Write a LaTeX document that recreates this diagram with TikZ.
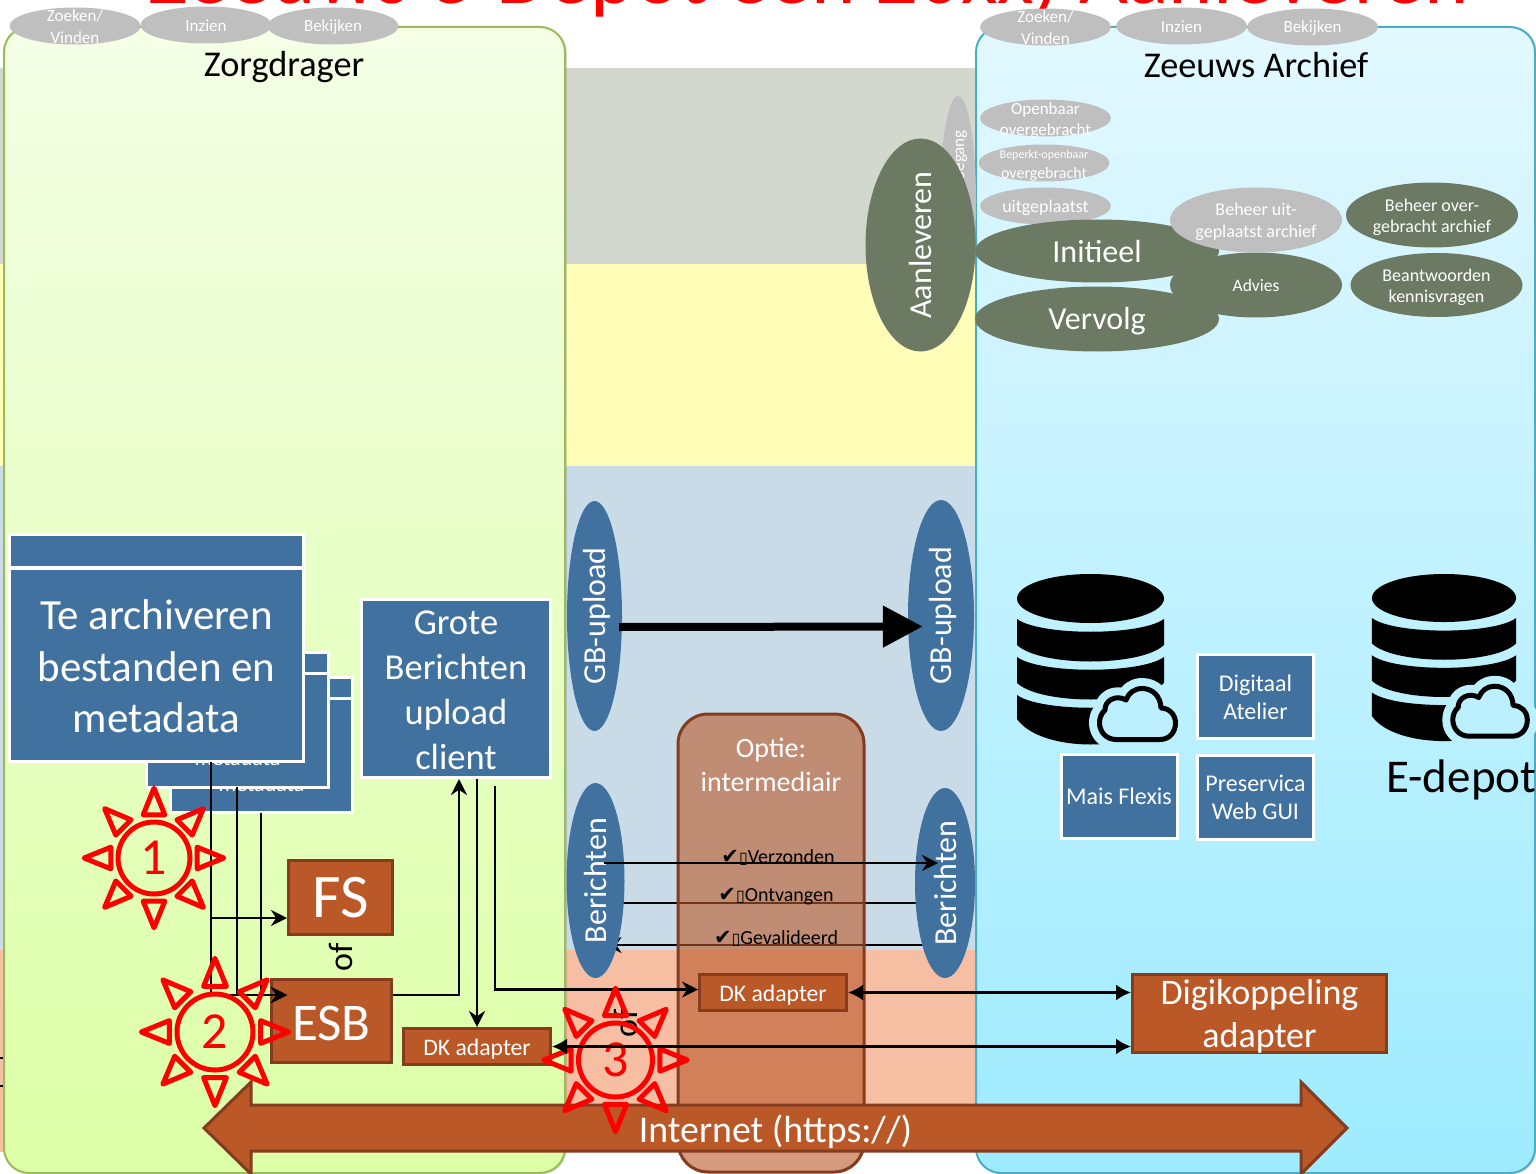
\documentclass[tikz,border=0pt]{standalone}
\usepackage{fontspec}
\setmainfont{Carlito}
\newfontfamily\symbfont{DejaVu Sans}
\usetikzlibrary{shapes.geometric,arrows.meta,shadows,calc}

\definecolor{bandgrijs}{HTML}{D3D8CE}
\definecolor{bandgeel}{HTML}{FFFDB8}
\definecolor{bandblauw}{HTML}{CADBE8}
\definecolor{bandzalm}{HTML}{F6BEA3}
\definecolor{vakblauw}{HTML}{41729F}
\definecolor{vakbruin}{HTML}{BB5828}
\definecolor{randbruin}{HTML}{843C1F}
\definecolor{ovaalgroen}{HTML}{6D7A63}
\definecolor{ovaalgrijs}{HTML}{BFBFBF}
\definecolor{wolkblauw}{HTML}{BCF0FF}
\definecolor{randgroen}{HTML}{9BBB59}
\definecolor{randblauw}{HTML}{4BACC6}
\definecolor{zorgboven}{HTML}{F4FFE6}
\definecolor{zorgonder}{HTML}{DCFFA6}
\definecolor{archiefboven}{HTML}{E2F8FF}
\definecolor{archiefonder}{HTML}{9EEBFF}

\newcommand{\fs}[2]{\fontsize{#1}{#2}\selectfont}

\newcommand{\sunmark}[5]{
    \node[zon, minimum size=#4*2pt] (#1) at (#2,#3) {#5};
    \foreach \a in {0,45,...,315}
        \draw[zonstraal, shift={(#2,#3)}, rotate=\a] ({#4*1.94},0) -- ({#4*1.2},{#4*0.3}) -- ({#4*1.2},{-#4*0.3}) -- cycle;
}

\newcommand{\dbcloud}[3]{
    \begin{scope}[shift={(#1,#2)}, scale=#3]
        \fill (0,24.5) ellipse (73.5 and 24.5);
        \foreach \t/\b/\s in {45/71/22,83/109/22,121/145/34}
            \fill (-73.5,\t) .. controls (-50,\t+17) and (50,\t+17) .. (73.5,\t) -- (73.5,\b) .. controls (50,\b+\s) and (-50,\b+\s) .. (-73.5,\b) -- cycle;
        \foreach \w/\k in {21pt/wolkblauw,5pt/black}
            \draw[line width=\w, draw=\k, fill=wolkblauw, line join=round] (25.5,165.5) -- (69.5,165.5) .. controls (79,165.5) and (85,158) .. (85,149) .. controls (85,140) and (78,134) .. (70.5,134) .. controls (70,122) and (62,114.5) .. (51.5,114.5) .. controls (44,114.5) and (38,119) .. (35.5,126) .. controls (25,120) and (14,127) .. (14.5,136) .. controls (10,140) and (9,145) .. (9,149) .. controls (9,158) and (16,165.5) .. (25.5,165.5) -- cycle;
    \end{scope}
}

\begin{document}
\begin{tikzpicture}[x=1pt, y=-1pt,
            every node/.style = {inner sep=0pt, align=center},
            every label/.style = {text=white, align=center},
            paneel/.style = {rectangle, rounded corners=25pt, line width=2pt, minimum width=#1, minimum height=1146pt,
                drop shadow={shadow xshift=2pt, shadow yshift=-1pt, opacity=0.25}},
            kop/.style = {font=\fs{36.3}{40}},
            grijs/.style = {ellipse, fill=ovaalgrijs, text=white, minimum width=131pt, minimum height=37pt},
            groen/.style = {ellipse, fill=ovaalgroen, text=white},
            blauw/.style = {ellipse, fill=vakblauw, text=white, rotate=90},
            vak/.style = {rectangle, fill=vakblauw, draw=white, line width=3pt, text=white},
            bruin/.style = {rectangle, fill=vakbruin, draw=randbruin, line width=3pt, text=white},
            zon/.style = {circle, draw=red, line width=5pt, text=red, font=\fs{52}{52}},
            zonstraal/.style = {draw=red, line width=5pt, line join=round},
            lijn/.style = {draw=black, line width=2.5pt},
            pijl/.style = {lijn, -{Stealth[length=16pt, width=16pt]}},
            dubbel/.style = {lijn, {Latex[length=15pt, width=16pt]}-{Latex[length=15pt, width=16pt]}},
            status/.style = {text=black, font=\fs{20}{20}}
            ]
    \useasboundingbox (0,0) rectangle (1536,1174);
    \fill[white] (0,0) rectangle (1536,1174);
    \fill[bandgrijs] (0,68) rectangle (1536,264);
    \fill[bandgeel] (0,264) rectangle (1536,466);
    \fill[bandblauw] (0,466) rectangle (1536,950);
    \fill[bandzalm] (0,950) rectangle (1536,1152);
    \coordinate (tik1) at (0,1058);
    \coordinate (tik2) at (0,1086);
    \draw[lijn] (tik1) -- ++(4,0);
    \draw[lijn] (tik2) -- ++(4,0);

    \node[paneel=561pt, draw=randgroen, top color=zorgboven, bottom color=zorgonder] (zorgdrager) at (284.5,600) {};
    \node[paneel=559pt, draw=randblauw, top color=archiefboven, bottom color=archiefonder] (archief) at (1255.5,600) {};

    \node[anchor=base, text=red, font=\fs{84.7}{85}] (titel) at (809,4) {Zeeuws e-Depot een 20xx) Aanleveren};
    \node[kop] (zorgkop) at (284,67) {Zorgdrager};
    \node[kop] (archiefkop) at (1256,65) {Zeeuws Archief};

    \node[grijs, label={[font=\fs{17}{22}, yshift=-1pt]center:Zoeken/\\Vinden}] (zoeken1) at (75,26) {};
    \node[grijs, label={[font=\fs{17}{17}, yshift=-1pt]center:Inzien}] (inzien1) at (206,25) {};
    \node[grijs, label={[font=\fs{17}{17}, yshift=-1pt]center:Bekijken}] (bekijken1) at (333,26) {};
    \node[grijs, label={[font=\fs{17}{22}, yshift=-1pt]center:Zoeken/\\Vinden}] (zoeken2) at (1045.5,27) {};
    \node[grijs, label={[font=\fs{17}{17}, yshift=-1pt]center:Inzien}] (inzien2) at (1181.5,26) {};
    \node[grijs, label={[font=\fs{17}{17}, yshift=-1pt]center:Bekijken}] (bekijken2) at (1312.5,27) {};

    \node[grijs, rotate=90, minimum width=210pt, minimum height=36pt] (toegang) at (958,201) {};
    \node[rotate=90, anchor=east, text=white, font=\fs{17}{17}] (toegangtekst) at (960,130) {Toegang};
    \node[grijs, label={[font=\fs{17}{21}, yshift=-3pt]center:Openbaar\\overgebracht}] (openbaar) at (1045.5,118) {};
    \node[grijs, label={[font=\fs{16}{20}, yshift=-3pt]center:{\fs{12}{14}Beperkt-openbaar}\\overgebracht}] (beperkt) at (1044,163) {};
    \node[grijs, label={[font=\fs{18}{18}, yshift=-2pt]center:uitgeplaatst}] (uitgeplaatst) at (1045.5,206) {};

    \node[groen, minimum width=244pt, minimum height=63pt, label={[font=\fs{32}{32}, yshift=-1pt]center:Initieel}] (initieel) at (1097,251) {};
    \node[groen, minimum width=172pt, minimum height=65pt, font=\fs{17.5}{22}] (advies) at (1256,285) {Advies};
    \node[groen, minimum width=244pt, minimum height=65pt, label={[font=\fs{32}{32}, yshift=-2pt]center:Vervolg}] (vervolg) at (1097,319) {};
    \node[grijs, minimum width=172pt, minimum height=65pt, label={[font=\fs{18}{22}, yshift=-2pt]center:Beheer uit-\\geplaatst archief}] (beheeruit) at (1256,220) {};
    \node[groen, minimum width=172pt, minimum height=65pt, label={[font=\fs{18}{21}, yshift=-2pt]center:Beheer over-\\gebracht archief}] (beheerover) at (1432,215) {};
    \node[groen, minimum width=172pt, minimum height=64pt, label={[font=\fs{18}{21}, yshift=-2pt]center:Beantwoorden\\kennisvragen}] (kennis) at (1436.5,285) {};
    \node[groen, rotate=90, minimum width=213pt, minimum height=110pt, font=\fs{32}{32}] (aanleveren) at (920.5,245) {Aanleveren};

    \node[vak, minimum width=182pt, minimum height=114pt, font=\fs{22}{28}] (bron3) at (261.5,755.5) {Te archiveren\\bestanden en\\metadata};
    \node[vak, minimum width=182pt, minimum height=21pt] (bronkop3) at (261.5,687.5) {};
    \node[vak, minimum width=182pt, minimum height=114pt, font=\fs{22}{28}] (bron2) at (237.5,730) {Te archiveren\\bestanden en\\metadata};
    \node[vak, minimum width=182pt, minimum height=21pt] (bronkop2) at (237.5,662.5) {};
    \node[vak, minimum width=294pt, minimum height=193pt, label={[font=\fs{43}{51.5}, yshift=-2pt]center:Te archiveren\\bestanden en\\metadata}] (bron1) at (156.5,664.5) {};
    \node[vak, minimum width=294pt, minimum height=33pt] (bronkop1) at (156.5,551) {};
    \node[vak, minimum width=189pt, minimum height=178pt, label={[font=\fs{36.5}{45}, yshift=-2pt]center:Grote\\Berichten\\upload\\client}] (upload) at (456,688.5) {};

    \node[blauw, minimum width=230pt, minimum height=55pt, label={[rotate=90, font=\fs{32}{32}, yshift=-2pt]center:GB-upload}] (gblinks) at (594.5,616) {};
    \node[blauw, minimum width=231pt, minimum height=66pt, label={[rotate=90, font=\fs{32}{32}, yshift=-2pt]center:GB-upload}] (gbrechts) at (941,615.5) {};
    \draw[line width=8pt, draw=black, -{Triangle[length=40pt, width=40pt]}] ([xshift=-3pt, yshift=-11pt]gblinks.south) -- ([xshift=15pt, yshift=-11pt]gbrechts.north);

    \coordinate (berl) at (595.5,880.5);
    \coordinate (berr) at (945,883);
    \draw[lijn] ([yshift=-22.5pt]berl) -- ([yshift=-20pt]berr);
    \draw[pijl] ([yshift=-62pt]berr) -- ([xshift=10pt, yshift=-64.5pt]berl);

    \node[blauw, minimum width=195pt, minimum height=58pt, font=\fs{32}{32}] (berlinks) at (berl) {Berichten};
    \node[blauw, minimum width=190pt, minimum height=60pt, font=\fs{32}{32}] (berrechts) at (berr) {Berichten};

    \node[rectangle, rounded corners=30pt, fill=vakbruin, fill opacity=0.6, draw=randbruin, line width=3pt, minimum width=186pt, minimum height=458pt] (optie) at (771,943) {};
    \node[text=white, font=\fs{28}{34}] (optietekst) at (771,765) {Optie:\\intermediair};
    \node[status] (verzonden) at (778,858) {{\symbfont\fs{21}{21}✔\fs{16}{16}▯}Verzonden};
    \node[status] (ontvangen) at (776,897) {{\symbfont\fs{21}{21}✔\fs{16}{16}▯}Ontvangen};
    \node[status] (gevalideerd) at (776,939) {{\symbfont\fs{21}{21}✔\fs{16}{16}▯}Gevalideerd};
    \draw[pijl] ([xshift=8pt, yshift=17.5pt]berlinks.center) -- ([xshift=-7pt, yshift=20pt]berrechts.center);

    \node[bruin, minimum width=104pt, minimum height=74pt, font=\fs{62}{62}] (fs) at (340.5,897.5) {FS};
    \node[rotate=90, text=black, font=\fs{34}{34}] (of1) at (341,957) {of};
    \node[bruin, minimum width=120pt, minimum height=83pt, label={[font=\fs{53}{53}, yshift=-2pt]center:ESB}] (esb) at (331.5,1021) {};
    \node[bruin, minimum width=147pt, minimum height=36pt, label={[font=\fs{23.7}{24}, yshift=-3pt]center:DK adapter}] (dklinks) at (477,1046.5) {};
    \node[bruin, minimum width=147pt, minimum height=36pt, label={[font=\fs{23.7}{24}, yshift=-3pt]center:DK adapter}] (dkrechts) at (773,992.5) {};
    \node[bruin, minimum width=254pt, minimum height=78pt, label={[font=\fs{36}{43}, yshift=-3pt]center:Digikoppeling\\adapter}] (digi) at (1259.5,1013.5) {};
    \node[rotate=90, text=black, font=\fs{34}{34}] (of2) at (626,1023) {of};

    \coordinate (uit1) at (211,762);
    \coordinate (uit2) at (237,787);
    \coordinate (uit3) at (261,813);
    \coordinate (esbin) at (287,995);
    \draw[pijl] (uit1) |- (esbin);
    \draw[pijl] (uit2) |- (esbin);
    \draw[pijl] (uit3) |- (esbin);
    \draw[pijl] (uit1 |- 0,918) -- ([yshift=-20.5pt]fs.west);
    \coordinate (uploadin) at (459,779);
    \coordinate (uploaduit) at (495,786);
    \draw[pijl] ([yshift=26pt]esb.east) -| (uploadin);
    \draw[pijl] (upload.south -| dklinks.north) -- (dklinks.north);
    \draw[pijl] (uploaduit) |- ([yshift=3pt]dkrechts.west);
    \draw[dubbel] (dkrechts.east) -- (digi.west |- dkrechts.east);

    \draw[fill=vakbruin, draw=randbruin, line width=3pt, line join=miter] (204,1128) -- (251,1082) -- (251,1105) -- (1301,1105) -- (1301,1082) -- (1347,1128) -- (1301,1174) -- (1301,1151) -- (251,1151) -- (251,1174) -- cycle;
    \node[text=white, font=\fs{37.8}{38}] (internet) at (775.5,1132) {Internet (https://)};

    \dbcloud{1090.5}{574}{1}
    \dbcloud{1444}{574}{0.98}
    \node[vak, minimum width=116pt, minimum height=84pt, label={[font=\fs{24}{28}, yshift=-1pt]center:Digitaal\\Atelier}] (atelier) at (1255.5,696.5) {};
    \node[vak, minimum width=116pt, minimum height=84pt, font=\fs{24}{28}] (preservica) at (1255.5,797.5) {Preservica\\Web GUI};
    \node[vak, minimum width=116pt, minimum height=84pt, font=\fs{24}{25}] (mais) at (1119,796.5) {Mais Flexis};
    \node[anchor=base west, text=black, font=\fs{47}{47}] (edepot) at (1386,792) {E-depot};

    \sunmark{zon1}{154}{858}{36}{1}
    \sunmark{zon2}{215}{1032}{38}{2}
    \sunmark{zon3}{615.5}{1060}{37}{3}
    \draw[dubbel] (dklinks.east) -- (digi.west |- dklinks.east);
\end{tikzpicture}
\end{document}
